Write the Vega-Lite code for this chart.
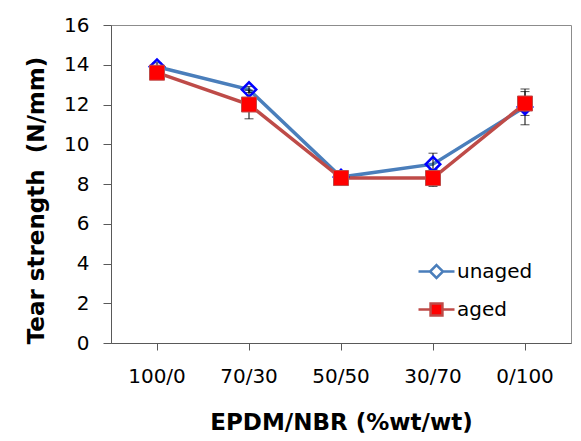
{
  "$schema": "https://vega.github.io/schema/vega-lite/v6.json",
  "width": 460,
  "height": 318,
  "autosize": "none",
  "padding": {"left": 111, "top": 25, "right": 10, "bottom": 98},
  "background": "white",
  "config": {
    "font": "DejaVu Sans",
    "view": {"stroke": "#8c8c8c", "strokeWidth": 1},
    "axis": {"grid": false, "labelFont": "DejaVu Sans", "titleFont": "DejaVu Sans", "labelColor": "black", "titleColor": "black", "domainColor": "#595959", "tickColor": "#595959", "labelFontSize": 20, "titleFontSize": 23, "titleFontWeight": "bold"}
  },
  "data": {"values": [
    {"blend": "100/0", "series": "unaged", "value": 13.9, "err": 0.2},
    {"blend": "70/30", "series": "unaged", "value": 12.75, "err": 0.15},
    {"blend": "50/50", "series": "unaged", "value": 8.35, "err": 0.1},
    {"blend": "30/70", "series": "unaged", "value": 9.0, "err": 0.55},
    {"blend": "0/100", "series": "unaged", "value": 11.88, "err": 0.9},
    {"blend": "100/0", "series": "aged", "value": 13.6, "err": 0.2},
    {"blend": "70/30", "series": "aged", "value": 12.0, "err": 0.72},
    {"blend": "50/50", "series": "aged", "value": 8.3, "err": 0.1},
    {"blend": "30/70", "series": "aged", "value": 8.3, "err": 0.42},
    {"blend": "0/100", "series": "aged", "value": 12.05, "err": 0.6}
  ]},
  "encoding": {
    "x": {"field": "blend", "type": "nominal", "sort": ["100/0", "70/30", "50/50", "30/70", "0/100"],
      "scale": {"paddingInner": 0, "paddingOuter": 0},
      "axis": {"title": "EPDM/NBR (%wt/wt)", "labelAngle": 0, "tickSize": 7, "labelPadding": 16, "titleFontSize": 23, "titleBaseline": "alphabetic", "titleY": 86}},
    "y": {"field": "value", "type": "quantitative",
      "scale": {"domain": [0, 16], "nice": false},
      "axis": {"title": "Tear strength \u00a0(N/mm)", "values": [0, 2, 4, 6, 8, 10, 12, 14, 16], "tickSize": 8, "labelPadding": 14, "titleBaseline": "alphabetic", "titleX": -68, "titleY": 175, "titleAngle": -90, "titleAlign": "center"}}
  },
  "layer": [
    {
      "mark": {"type": "line", "strokeWidth": 3.5},
      "encoding": {
        "color": {"field": "series", "type": "nominal",
          "scale": {"domain": ["unaged", "aged"], "range": ["#4A7EBB", "#BE4B48"]},
          "legend": {"title": null, "orient": "none", "legendX": 306, "legendY": 227, "labelFontSize": 20, "labelFont": "DejaVu Sans", "labelColor": "black", "labelOffset": 1, "rowPadding": 7,
            "symbolSize": 1296,
            "encode": {"symbols": {"update": {
              "shape": [{"test": "datum.value === 'unaged'", "value": "M-1,0H-0.36M0.36,0H1M0,-0.36L0.36,0L0,0.36L-0.36,0Z"}, {"value": "M-1,0H-0.33M0.33,0H1M-0.33,-0.33H0.33V0.33H-0.33Z"}],
              "fill": [{"test": "datum.value === 'unaged'", "value": "transparent"}, {"value": "#FF0000"}],
              "stroke": [{"test": "datum.value === 'unaged'", "value": "#1a3fe0"}, {"value": "#BE4B48"}],
              "strokeWidth": {"value": 2.5},
              "size": {"value": 1296},
              "opacity": {"value": 1}
            }}}
          }}
      }
    },
    {
      "mark": {"type": "errorbar", "color": "black", "thickness": 1, "ticks": {"size": 9, "thickness": 1, "color": "black"}},
      "encoding": {
        "y": {"field": "value", "type": "quantitative"},
        "yError": {"field": "err"}
      }
    },
    {
      "transform": [{"filter": "datum.series === 'unaged'"}],
      "mark": {"type": "point", "shape": "diamond", "filled": false, "stroke": "#0000FF", "strokeWidth": 2.5, "size": 210, "opacity": 1}
    },
    {
      "transform": [{"filter": "datum.series === 'aged'"}],
      "mark": {"type": "square", "filled": true, "fill": "#FF0000", "stroke": "#BE4B48", "strokeWidth": 1, "size": 225, "opacity": 1}
    }
  ]
}
